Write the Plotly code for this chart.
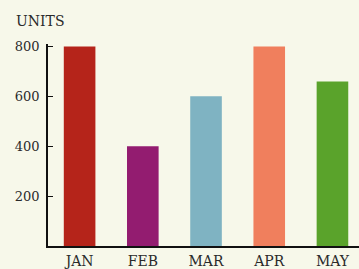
import plotly.graph_objects as go

months = ["JAN", "FEB", "MAR", "APR", "MAY"]
units = [800, 400, 600, 800, 660]
colors = ["#b5241a", "#931c70", "#7fb3c2", "#f07f5d", "#5aa32b"]
y_ticks = [200, 400, 600, 800]

W, H = 359, 269
L, R, T, B = 48, 0, 44, 20

fig = go.Figure(go.Bar(x=months, y=units, marker_color=colors, width=0.5,
                       marker_line_width=0))

fig.update_layout(
    width=W, height=H,
    margin=dict(l=L, r=R, t=T, b=B, pad=0),
    paper_bgcolor="#f7f8ea", plot_bgcolor="#f7f8ea",
    font=dict(family="DejaVu Serif, Liberation Serif, serif", color="#2a2a2a", size=13),
    showlegend=False,
    bargap=0.5,
)
fig.update_xaxes(
    range=[-0.5, 4.42], showline=True, linecolor="#111111", linewidth=1.5,
    showgrid=False, ticks="", tickfont=dict(size=14), ticklabelstandoff=1,
)
fig.update_yaxes(
    range=[0, 810], showline=True, linecolor="#111111", linewidth=1.5,
    showgrid=False, zeroline=False, ticks="inside", ticklen=5, tickwidth=1.2,
    tickcolor="#111111", tickvals=y_ticks, ticktext=[str(v) for v in y_ticks],
    tickfont=dict(size=13), ticklabelstandoff=4,
)
fig.add_annotation(text="UNITS", xref="paper", yref="paper", x=-(L - 14) / (W - L - R),
                   y=1 + (T - 21) / (H - T - B), xanchor="left", yanchor="middle",
                   showarrow=False, font=dict(size=14))

fig.write_html("out.html", config={"displayModeBar": False},
               post_script="document.body.style.margin='0';")
